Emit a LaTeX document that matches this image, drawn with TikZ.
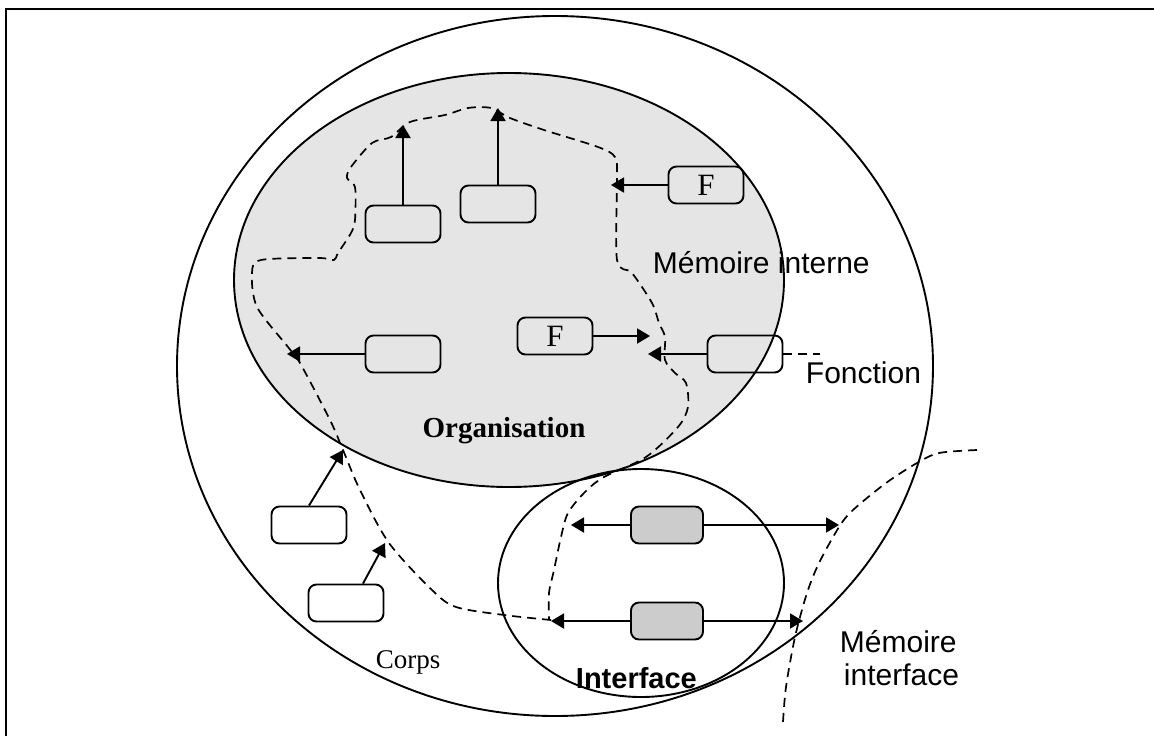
\documentclass[tikz,border=0pt]{standalone}
\usepackage{fontspec}
\setmainfont{Liberation Serif}
\newfontfamily\arialfont{Liberation Sans}
\usetikzlibrary{arrows.meta}
\begin{document}
\begin{tikzpicture}[x=1pt,y=-1pt,line width=1.9pt,
  box/.style={draw,rounded corners=8pt,minimum width=75pt,minimum height=37pt,inner sep=0pt,font=\fontsize{31}{32}\selectfont},
  greybox/.style={box,fill=gray!40,minimum width=72pt},
  tip/.style={-{Triangle[length=13pt,width=15pt]}},
  border/.style={dash pattern=on 9pt off 6pt,line width=1.7pt},
  lab/.style={font=\arialfont\fontsize{30}{32}\selectfont,inner sep=0pt,anchor=base west}]
\useasboundingbox (0,0) rectangle (1154,736);
\draw[line width=2.2pt] (6,736) -- (6,9) -- (1154,9);
% enveloppes
\draw (555,366) ellipse [x radius=378, y radius=350];
\draw[fill=gray!20] (509,280) ellipse [x radius=275, y radius=207];
\draw (641,583) ellipse [x radius=143, y radius=114];
% frontieres
\draw[border] plot[smooth,tension=.5] coordinates {(551,620) (504,615) (456,607) (432,590)
  (389,543) (360,490) (343,450) (330,420) (300,363) (288,347) (257,307) (252,273) (261,260)
  (319,258) (334,260) (338,253) (351,233) (355,220) (355,187) (347,178) (351,167) (372,143)
  (391,137) (410,122) (445,115) (468,108) (491,108) (510,118) (544,130) (598,147) (615,157)
  (617,177) (617,260) (632,273) (652,303) (659,323) (665,337) (665,360) (675,373) (686,383)
  (688,407) (678,427) (646,457) (604,477) (585,492) (568,513) (561,537) (554,570) (549,593)
  (549,620)};
\draw[border] plot[smooth,tension=.5] coordinates {(977,450) (939,453) (917,463) (886,483)
  (853,510) (839,527) (819,563) (807,593) (795,637) (786,687) (783,722)};
% boites
\node[box] (bA) at (403,224) {};
\node[box] (bB) at (498,204) {};
\node[box] (bF1) at (706,185) {F};
\node[box] (bC) at (403,354) {};
\node[box] (bF2) at (555,336) {F};
\node[box] (bD) at (745,354) {};
\node[box] (bE) at (309,525) {};
\node[box] (bG) at (346,603) {};
\node[greybox] (bH1) at (667,525) {};
\node[greybox] (bH2) at (667,621) {};
% bouts des fleches
\coordinate (tA) at (403,125);
\coordinate (tB) at (498,108);
\coordinate (tF1) at (611,185);
\coordinate (tC) at (287,354);
\coordinate (tF2) at (650,336);
\coordinate (tD) at (648,354);
\coordinate (fEnd) at (820,354);
\coordinate (tE) at (343,450);
\coordinate (tG) at (385,543);
\coordinate (tH1l) at (571,525);
\coordinate (tH1r) at (839,525);
\coordinate (tH2l) at (551,621);
\coordinate (tH2r) at (803,621);
\draw[tip] (bA.north) -- (tA);
\draw[tip] (bB.north) -- (tB);
\draw[tip] (bF1.west) -- (tF1);
\draw[tip] (bC.west) -- (tC);
\draw[tip] (bF2.east) -- (tF2);
\draw[tip] (bD.west) -- (tD);
\draw[border] (bD.east) -- (fEnd);
\draw[tip] (bE.north) -- (tE);
\draw[tip] ([xshift=17pt]bG.north) -- (tG);
\draw[tip] (bH1.west) -- (tH1l);
\draw[tip] (bH1.east) -- (tH1r);
\draw[tip] (bH2.west) -- (tH2l);
\draw[tip] (bH2.east) -- (tH2r);
% textes
\node[lab] (mInt) at (652,273) {Mémoire interne};
\node[lab] (fonc) at (805,383) {Fonction};
\node[font=\bfseries\fontsize{29}{31}\selectfont,inner sep=0pt,anchor=base] (org) at (504,437) {Organisation};
\node[font=\fontsize{27}{29}\selectfont,inner sep=0pt,anchor=base west] (corps) at (375,668) {Corps};
\node[lab,font=\arialfont\bfseries\fontsize{29}{31}\selectfont] (intf) at (575,688) {Interface};
\node[lab] (mItf1) at (839,652) {Mémoire};
\node[lab] (mItf2) at (843,685) {interface};
\end{tikzpicture}
\end{document}
